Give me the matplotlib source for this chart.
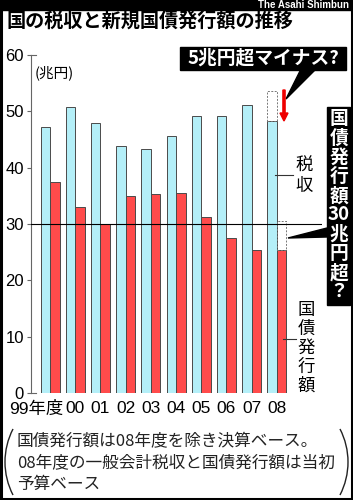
import matplotlib.pyplot as plt
from matplotlib.patches import Rectangle, Polygon, Arc, FancyArrow

# data (trillion yen)
years = ["99年度", "00", "01", "02", "03", "04", "05", "06", "07", "08"]
tax = [47.2, 50.7, 47.9, 43.8, 43.3, 45.6, 49.1, 49.1, 51.2, 48.3]
bonds = [37.5, 33.0, 30.0, 35.0, 35.3, 35.5, 31.3, 27.5, 25.4, 25.3]
tax_budget_08 = 53.6
bonds_est_08 = 30.5
yticks = [0, 10, 20, 30, 40, 50, 60]

blue = "#b4eff8"
red = "#ff4b4b"
edge = "#4a4a4a"
jp = ["Noto Sans CJK JP", "DejaVu Sans"]
num = ["Liberation Sans", "Noto Sans CJK JP"]

fig = plt.figure(figsize=(3.53, 5.0), dpi=100)
ax = fig.add_axes([31/353, 107/500, 291/353, 338/500])

x = range(len(years))
w = 0.377
ax.bar([i - w/2 for i in x], tax, w, color=blue, edgecolor=edge, linewidth=0.7, zorder=2)
ax.bar([i + w/2 for i in x], bonds, w, color=red, edgecolor=edge, linewidth=0.7, zorder=2)
# dashed outlines for 08 budget vs outlook
n = len(years) - 1
ax.bar(n - w/2, tax_budget_08 - tax[n], w, bottom=tax[n], fill=False,
       edgecolor="#777777", linestyle=(0, (2, 1.5)), linewidth=0.7, zorder=2)
ax.bar(n + w/2, bonds_est_08 - bonds[n], w, bottom=bonds[n], fill=False,
       edgecolor="#777777", linestyle=(0, (2, 1.5)), linewidth=0.7, zorder=2)

ax.axhline(30, color="black", linewidth=0.8, zorder=3)

ax.set_xlim(-0.754, 10.79)
ax.set_ylim(0, 60)
ax.set_yticks(yticks)
ax.set_yticklabels([str(v) for v in yticks], family=num, fontsize=12)
ax.tick_params(axis="y", length=3, width=0.8, color="#666666", pad=2)
ax.set_xticks([])
for s in ["top", "right", "bottom"]:
    ax.spines[s].set_visible(False)
ax.spines["left"].set_color("#666666")
ax.spines["left"].set_linewidth(0.8)
ax.plot([-0.754, -0.55], [0, 0], color="#666666", lw=0.8, clip_on=False)
ax.plot([-0.754, -0.55], [60, 60], color="#666666", lw=0.8, clip_on=False)

xt = ax.get_xaxis_transform()
for i, lab in enumerate(years):
    if i == 0:
        ax.text(i + 0.52, -0.047, lab, transform=xt, ha="right", va="center",
                family=num, fontsize=12.5)
    else:
        ax.text(i, -0.047, lab, transform=xt, ha="center", va="center",
                family=num, fontsize=12.5)

# overlay in pixel coordinates for annotations
ov = fig.add_axes([0, 0, 1, 1], zorder=5)
ov.set_xlim(0, 353)
ov.set_ylim(500, 0)
ov.axis("off")
ov.patch.set_alpha(0)

ov.add_patch(Rectangle((0, 0), 353, 10, color="black"))
ov.add_patch(Rectangle((1, 1), 351, 498, fill=False, edgecolor="black", lw=2.2))
ov.text(349, 5, "The Asahi Shimbun", color="white", fontsize=7, fontweight="bold",
        family="Liberation Sans", ha="right", va="center")

ov.text(7, 21, "国の税収と新規国債発行額の推移", family=jp, fontsize=13.8,
        fontweight="bold", ha="left", va="center")
ov.text(35, 73, "(兆円)", family=jp, fontsize=10.5, ha="left", va="center")

# top callout
ov.add_patch(Rectangle((180, 47), 166, 23, color="black"))
ov.add_patch(Polygon([(286, 99), (301, 69), (316, 69)], closed=True, color="black"))
ov.text(263, 58.5, "5兆円超マイナス?", color="white", family=jp, fontsize=13.5,
        fontweight="bold", ha="center", va="center")
ov.add_patch(FancyArrow(284, 90, 0, 31, width=2.2, head_width=8, head_length=8,
                        length_includes_head=True, color="#ee0000"))

# vertical callout box
ov.add_patch(Rectangle((327, 107), 23, 198, color="black"))
ov.add_patch(Polygon([(288, 238), (327, 228), (327, 237)], closed=True, color="black"))
vbox = ["国", "債", "発", "行", "額", "30", "兆", "円", "超", "？"]
for k, ch in enumerate(vbox):
    ov.text(339, 119 + 19.2 * k, ch, color="white", family=jp, fontsize=13.5,
            fontweight="bold", ha="center", va="center")

# series labels
ov.plot([275, 293], [175, 175], color="#333333", lw=0.8)
for k, ch in enumerate("税収"):
    ov.text(304, 166 + 19.5 * k, ch, family=jp, fontsize=12.5, ha="center", va="center")
ov.plot([283, 296], [339, 339], color="#333333", lw=0.8)
for k, ch in enumerate("国債発行額"):
    ov.text(306, 309.5 + 19 * k, ch, family=jp, fontsize=12.5, ha="center", va="center")

# footnote
notes = ["国債発行額は08年度を除き決算ベース。",
         "08年度の一般会計税収と国債発行額は当初",
         "予算ベース"]
for k, line in enumerate(notes):
    ov.text(17, 442 + 21 * k, line, family=jp, fontsize=12, color="#222222",
            ha="left", va="center")
ov.add_patch(Arc((77, 462), 144, 144, theta1=152.7, theta2=207.3, color="#222222", lw=1))
ov.add_patch(Arc((276, 462), 144, 144, theta1=-27.3, theta2=27.3, color="#222222", lw=1))

fig.savefig("out.png", dpi=100)
